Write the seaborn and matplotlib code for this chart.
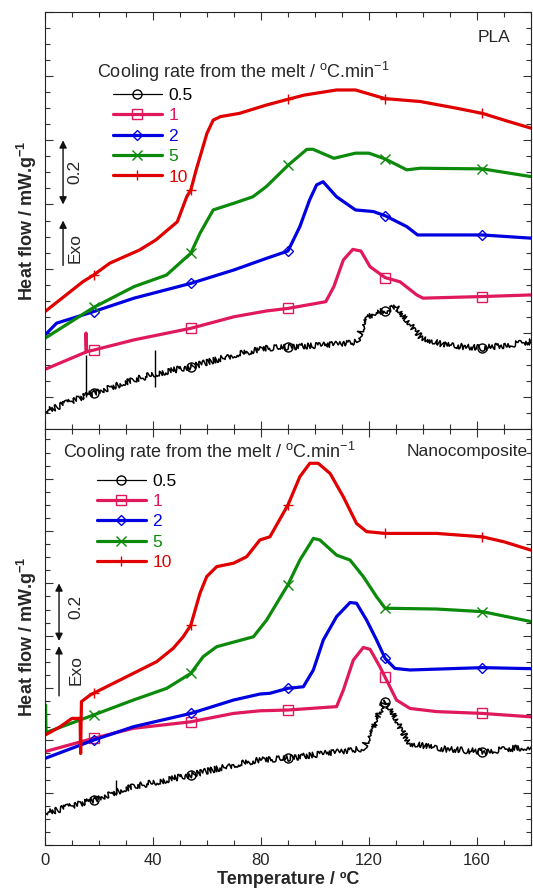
import numpy as np
import matplotlib
matplotlib.use("Agg")
import matplotlib.pyplot as plt
import seaborn as sns
from matplotlib.lines import Line2D
from matplotlib.ticker import MultipleLocator

sns.set_style("ticks")
plt.rcParams["font.family"] = ["Liberation Sans", "DejaVu Sans"]
plt.rcParams["mathtext.default"] = "regular"

# ---- series definitions -------------------------------------------------
RATES = ["0.5", "1", "2", "5", "10"]
COLORS = ["#000000", "#E0195C", "#0000E0", "#0B8A0B", "#E00000"]
MARKERS = ["o", "s", "D", "x", "+"]
MARK_T = [18, 54, 90, 126, 162]   # temperatures carrying a symbol

# ---- PLA (upper panel) ---------------------------------------------------
pla_t_05 = [0, 15.4, 18, 33, 40.7, 54, 70, 82, 90, 103, 115.4, 119, 124, 126,
            130.2, 134, 139, 147.5, 162, 180]
pla_h_05 = [-0.046, 0.005, 0.013, 0.053, 0.072, 0.094, 0.131, 0.152, 0.155, 0.162,
            0.172, 0.250, 0.266, 0.268, 0.281, 0.240, 0.188, 0.162, 0.152, 0.172]
# instrument glitches on the 0.5 trace: temperature, low end, high end
pla_glitch_t = [15.3, 40.7]
pla_glitch_lo = [0.000, 0.032]
pla_glitch_hi = [0.131, 0.146]

pla_t_1 = [0, 15.2, 15.2, 15.4, 18, 33, 54, 70, 82, 90, 104, 107, 110.5, 114, 117,
           120.4, 126, 131.5, 137.7, 140, 162, 180]
pla_h_1 = [0.086, 0.140, 0.199, 0.141, 0.146, 0.178, 0.214, 0.250, 0.268, 0.276,
           0.297, 0.344, 0.427, 0.460, 0.455, 0.406, 0.372, 0.359, 0.318, 0.308,
           0.313, 0.318]

pla_t_2 = [0, 4.3, 18, 33, 54, 70, 82, 90, 94.4, 98, 100.6, 103, 108, 115, 121.6,
           126, 134, 138, 162, 180]
pla_h_2 = [0.193, 0.230, 0.266, 0.308, 0.354, 0.396, 0.432, 0.455, 0.531, 0.614,
           0.661, 0.671, 0.624, 0.583, 0.578, 0.565, 0.531, 0.505, 0.505, 0.495]

pla_t_5 = [0, 18, 33, 45, 54, 57.4, 62.3, 70, 77, 82, 90, 97, 99.3, 107, 115, 120,
           126, 134, 139, 162, 180]
pla_h_5 = [0.183, 0.279, 0.344, 0.380, 0.448, 0.510, 0.583, 0.604, 0.624, 0.656,
           0.722, 0.772, 0.772, 0.744, 0.760, 0.760, 0.742, 0.708, 0.713, 0.711,
           0.687]

pla_t_10 = [0, 14, 18, 24, 35, 41, 49, 52.5, 54, 56, 60, 62.3, 65, 72, 82, 90, 96,
            108, 115, 126, 139, 152.5, 162, 172, 180]
pla_h_10 = [0.266, 0.359, 0.380, 0.417, 0.458, 0.489, 0.546, 0.624, 0.645, 0.708,
            0.822, 0.863, 0.874, 0.884, 0.910, 0.928, 0.941, 0.957, 0.957, 0.930,
            0.921, 0.900, 0.884, 0.858, 0.838]

# ---- Nanocomposite (lower panel) ----------------------------------------
nc_t_05 = [0, 18, 26.4, 32.7, 54, 69.8, 79.6, 90, 108, 117.9, 120.4, 125.3, 126,
           128.4, 132.7, 135.2, 145, 162, 180]
nc_h_05 = [0.121, 0.172, 0.203, 0.223, 0.268, 0.306, 0.325, 0.331, 0.357, 0.369,
           0.427, 0.541, 0.545, 0.516, 0.427, 0.389, 0.369, 0.357, 0.376]
nc_glitch_t = [26.4]
nc_glitch_lo = [0.200]
nc_glitch_hi = [0.248]

nc_t_1 = [0, 18, 32.7, 54, 69.8, 79.6, 90, 108, 110.5, 114.2, 117.9, 120.4, 124,
          126, 130.2, 135.2, 145, 162, 180]
nc_h_1 = [0.357, 0.408, 0.446, 0.471, 0.503, 0.513, 0.516, 0.529, 0.592, 0.707,
          0.755, 0.748, 0.682, 0.641, 0.554, 0.522, 0.510, 0.503, 0.490]

nc_t_2 = [0, 18, 32.7, 54, 69.8, 79.6, 83.3, 90, 95.7, 99.4, 103.1, 108, 113,
          115.4, 119.1, 122.8, 126, 129.6, 135.2, 162, 180]
nc_h_2 = [0.331, 0.401, 0.452, 0.503, 0.554, 0.577, 0.580, 0.599, 0.605, 0.669,
          0.784, 0.873, 0.927, 0.924, 0.860, 0.784, 0.713, 0.675, 0.669, 0.678,
          0.674]

nc_t_5 = [0, 0.2, 0.4, 8, 18, 32.7, 45.1, 54, 58.6, 63.6, 77.2, 82.1, 90, 94.4,
          99.4, 101.8, 108, 113, 117.9, 122.8, 126, 145, 162, 180]
nc_h_5 = [0.427, 0.535, 0.430, 0.459, 0.497, 0.554, 0.599, 0.656, 0.720, 0.758,
          0.796, 0.860, 0.995, 1.089, 1.172, 1.166, 1.108, 1.089, 1.026, 0.949,
          0.905, 0.902, 0.892, 0.854]

nc_t_10 = [0, 5.6, 10, 13.0, 13.2, 13.5, 16.7, 18, 22.8, 32.7, 41.4, 47.5, 51.2,
           54, 57.4, 59.9, 63.6, 69.8, 74.7, 79.6, 83.3, 90, 94.4, 98.1, 101.2,
           105.6, 110.5, 115.4, 119.1, 126, 145, 162, 170, 180]
nc_h_10 = [0.420, 0.452, 0.484, 0.484, 0.350, 0.548, 0.573, 0.580, 0.605, 0.656,
           0.701, 0.752, 0.796, 0.840, 0.962, 1.026, 1.064, 1.077, 1.102, 1.166,
           1.178, 1.300, 1.408, 1.459, 1.459, 1.420, 1.331, 1.229, 1.198, 1.191,
           1.191, 1.178, 1.159, 1.127]

PLA = [(pla_t_05, pla_h_05), (pla_t_1, pla_h_1), (pla_t_2, pla_h_2),
       (pla_t_5, pla_h_5), (pla_t_10, pla_h_10)]
NANO = [(nc_t_05, nc_h_05), (nc_t_1, nc_h_1), (nc_t_2, nc_h_2),
        (nc_t_5, nc_h_5), (nc_t_10, nc_h_10)]

LEGEND_TITLE = r"Cooling rate from the melt / $^{o}$C.min$^{-1}$"
Y_LABEL = r"Heat flow / mW.g$^{-1}$"

fig = plt.figure(figsize=(5.33, 8.91), dpi=100)
ax_top = fig.add_axes([0.0844, 0.5185, 0.9118, 0.4680])
ax_bot = fig.add_axes([0.0844, 0.0516, 0.9118, 0.4669])


def draw_curves(ax, series, glitches):
    for (t, h), col, mk, name in zip(series, COLORS, MARKERS, RATES):
        t = np.asarray(t, dtype=float)
        h = np.asarray(h, dtype=float)
        idx = [int(np.argmin(np.abs(t - m))) for m in MARK_T]
        thin = name == "0.5"
        sns.lineplot(x=t, y=h, ax=ax, color=col, lw=1.1 if thin else 2.3,
                     marker=mk, markevery=idx, ms=6.5 if mk != "D" else 5,
                     mfc="none", mec=col, mew=1.0,
                     estimator=None, sort=False)
        if thin:
            # noisy trace of the slowest cooling run
            ax.lines[-1].set_sketch_params(scale=3.0, length=0.45, randomness=1.5)
    gt, glo, ghi = glitches
    ax.vlines(gt, glo, ghi, color=COLORS[0], lw=1.0)


def style_axes(ax, ylim, show_x):
    ax.set_xlim(0, 180)
    ax.set_ylim(*ylim)
    ax.xaxis.set_major_locator(MultipleLocator(40))
    ax.xaxis.set_minor_locator(MultipleLocator(10))
    ax.yaxis.set_major_locator(MultipleLocator(0.2))
    ax.yaxis.set_minor_locator(MultipleLocator(0.05))
    ax.tick_params(which="both", direction="in", top=True, right=True,
                   width=0.8, color="#333333")
    ax.tick_params(which="major", length=6)
    ax.tick_params(which="minor", length=3.5)
    ax.tick_params(axis="y", labelleft=False)
    ax.tick_params(axis="x", labelbottom=show_x, labelsize=12, pad=6)
    for sp in ax.spines.values():
        sp.set_linewidth(0.8)
        sp.set_color("#222222")
    ax.set_ylabel(Y_LABEL, fontsize=13, fontweight="bold")
    ax.yaxis.set_label_coords(-0.013, 0.5)


def draw_legend(ax, title_xy, leg_xy):
    ax.text(title_xy[0], title_xy[1], LEGEND_TITLE, transform=ax.transAxes,
            fontsize=13, ha="left", va="center")
    handles = [Line2D([], [], color=c, lw=0.9 if r == "0.5" else 2.3, marker=m,
                      ms=6.5 if m != "D" else 5, mfc="none", mec=c, mew=1.0)
               for c, m, r in zip(COLORS, MARKERS, RATES)]
    ax.legend(handles, RATES, loc="upper left", bbox_to_anchor=leg_xy,
              frameon=False, fontsize=12.5, labelcolor=COLORS,
              handlelength=2.8, handletextpad=0.4, labelspacing=0.3,
              borderpad=0, borderaxespad=0)


def draw_scale(ax, x_arrow, y_pair, y_exo, x_text, y_txt, y_exo_txt):
    arrow = dict(arrowstyle="<|-|>", color="#111111", lw=1.0,
                 mutation_scale=11, shrinkA=0, shrinkB=0)
    ax.annotate("", xy=(x_arrow, y_pair[1]), xytext=(x_arrow, y_pair[0]),
                arrowprops=arrow)
    ax.annotate("", xy=(x_arrow, y_exo[1]), xytext=(x_arrow, y_exo[0]),
                arrowprops=dict(arrow, arrowstyle="-|>"))
    ax.text(x_text, y_txt, "0.2", rotation=90, ha="center", va="center",
            fontsize=12.5)
    ax.text(x_text, y_exo_txt, "Exo", rotation=90, ha="center", va="center",
            fontsize=12.5)


draw_curves(ax_top, PLA, (pla_glitch_t, pla_glitch_lo, pla_glitch_hi))
draw_curves(ax_bot, NANO, (nc_glitch_t, nc_glitch_lo, nc_glitch_hi))

style_axes(ax_top, (-0.1, 1.2), show_x=False)
style_axes(ax_bot, (0.0, 1.59), show_x=True)

draw_legend(ax_top, (0.107, 0.856), (0.14, 0.818))
draw_legend(ax_bot, (0.037, 0.945), (0.107, 0.893))

draw_scale(ax_top, 6.7, (0.60, 0.80), (0.41, 0.55), 11.2, 0.70, 0.465)
draw_scale(ax_bot, 5.2, (0.78, 1.00), (0.57, 0.76), 11.6, 0.91, 0.67)

ax_top.text(0.924, 0.938, "PLA", transform=ax_top.transAxes, fontsize=12.5,
            ha="center", va="center")
ax_bot.text(0.994, 0.945, "Nanocomposite", transform=ax_bot.transAxes,
            fontsize=12.5, ha="right", va="center")

ax_bot.set_xlabel("Temperature / ºC", fontsize=13, fontweight="bold",
                  labelpad=2)

fig.savefig("out.png", dpi=100)
